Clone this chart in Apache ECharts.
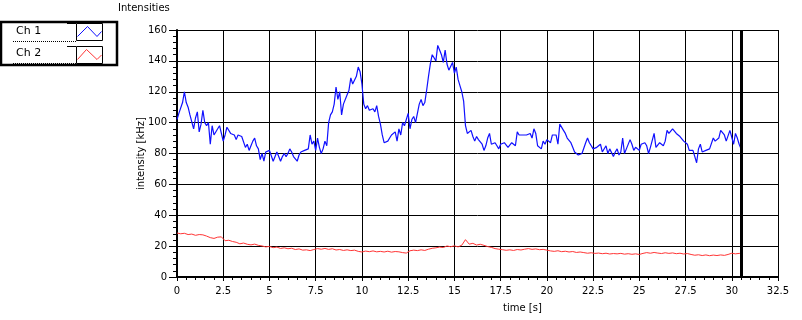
<!DOCTYPE html>
<html>
<head>
<meta charset="utf-8">
<script src="https://cdn.jsdelivr.net/npm/echarts@6/dist/echarts.min.js"></script>
<style>html,body{margin:0;padding:0;background:#fff}#c{width:802px;height:320px}</style>
</head>
<body>
<div id="c"></div>
<script>
const chartTitle = 'Intensities';
const xAxisName = 'time [s]';
const yAxisName = 'intensity [kHz]';
const seriesNames = ['Ch 1', 'Ch 2'];
const seriesColors = ['#1010ff', '#ff3535'];
const cursorTime = 30.5;
const xMin = 0, xMax = 32.5, xStep = 2.5;
const yMin = 0, yMax = 160, yStep = 20;

// sampling intervals (s) of the two channels
const ch1Step = 0.1;
const ch2Step = 0.2;

// Ch 1 values (kHz), one every 0.1 s from 0 s
const ch1Values = [
 102,106,107,113,120,113,110,105,104,96,
 103,107,94,99,108,100,98,100,86,98,
 92,93,96,98,97,88,92,97,98,93,
 92,92,89,92,91,91,90,84,86,82,
 85,88,90,85,83,76,80,75,81,82,
 82,83,75,74,81,78,75,78,80,78,
 80,83,
 81,78,77,75,79,81,80,82,81,83,
 92,86,88,82,90,84,80,83,88,85,
 100,105,107,112,123,115,120,105,112,113,
 118,121,129,125,126,130,136,133,125,112,
 109,111,108,107,109,107,111,104,99,92,
 87,88,88,90,92,93,94,88,96,92,
 100,98,
 99,106,96,102,104,100,101,112,115,111,
 113,121,130,138,144,142,140,150,147,144,
 139,147,138,134,134,139,132,136,128,124,
 120,114,98,93,94,95,91,88,91,89,
 88,86,82,85,90,93,86,86,87,85,
 83,86,85,87,86,84,83,87,88,85,
 94,92,
 92,92,92,92,93,93,90,96,93,85,
 84,83,88,86,89,88,87,92,92,92,
 86,99,99,95,93,90,90,87,84,81,
 82,79,78,80,81,87,90,87,85,83,
 83,84,84,86,81,82,85,80,83,82,
 78,81,83,79,81,90,80,83,82,89,
 86,82,
 84,85,82,86,87,87,85,80,84,84,
 93,84,85,87,88,85,88,95,93,93,
 96,97,93,92,91,91,88,88,86,82,
 83,82,81,74,83,86,81,81,82,82,
 83,84,90,88,89,90,95,94,92,88,
 89,95,95,86,93,90,86,83
];

// Ch 2 values (kHz), one every 0.2 s from 0 s
const ch2Values = [
 28.5,28,28.3,27.5,27.8,27,27.5,27.3,26.5,25.5,
 25,25.8,26,23.5,23.8,23,22.5,21.5,22,21.2,
 20.8,21.3,20.5,20.1,19.5,19.8,19,19.4,18.5,18.9,
 18.3,18.6,17.8,18.2,17.4,17.6,17.1,17.8,18.4,18,
 18.5,17.9,18.3,17.5,17.8,17.2,17.6,17.1,17.4,16.6,
 16.2,16.8,16.4,16.9,16.3,16.6,16.2,16.7,16.1,16.5,
 16.3,15.8,15.5,17,17.4,17.1,17.6,17.2,18,18.6,
 18.9,19.4,19.1,20.1,19.6,20.2,19.5,20.6,24.2,21.3,
 21.8,20.7,21.2,20.5,19.7,19.2,18.4,18,17.7,17.3,
 17.6,17.2,17.8,17.5,18,18.4,17.9,18.2,17.7,17.9,
 17.4,16.9,16.6,17,16.4,16.7,16.2,16.5,15.9,16.2,
 15.8,15.4,15.7,15.3,15.5,15.1,15.4,14.9,15.2,15,
 15.3,14.8,15.1,14.7,15,14.6,15.3,15.8,15.4,15.9,
 15.5,15.2,15.7,15.3,15.6,15.1,15.4,14.9,15.2,14.6,
 14.1,14.4,13.9,14.3,13.8,14.2,13.9,14.3,14.0,14.6,
 15.4,15.0,15.3,15.2
];

const toPairs = (vals, step) => vals.map((v, i) => [+(i * step).toFixed(2), v]);

const FONT = 'DejaVu Sans';
const chart = echarts.init(document.getElementById('c'), null, {renderer: 'canvas'});

const legendGraphics = [
  {type:'rect', shape:{x:1, y:22, width:116, height:43}, style:{fill:'#fff', stroke:'#000', lineWidth:2.5}},
  {type:'line', shape:{x1:67, y1:23.5, x2:76, y2:23.5}, style:{stroke:'#000', lineWidth:1}},
  {type:'line', shape:{x1:67, y1:46.5, x2:76, y2:46.5}, style:{stroke:'#000', lineWidth:1}},
  {type:'rect', shape:{x:76.5, y:23.5, width:26, height:17}, style:{fill:'#fff', stroke:'#000', lineWidth:1}},
  {type:'rect', shape:{x:76.5, y:46.5, width:26, height:17}, style:{fill:'#fff', stroke:'#000', lineWidth:1}},
  {type:'line', shape:{x1:13, y1:41.5, x2:76, y2:41.5}, style:{stroke:'#000', lineWidth:1, lineDash:[1,1]}},
  {type:'line', shape:{x1:13, y1:63.5, x2:76, y2:63.5}, style:{stroke:'#000', lineWidth:1, lineDash:[1,1]}},
  {type:'polyline', shape:{points:[[77.5,36.5],[87.5,26.5],[97,36.5],[101.5,31.5]]}, style:{stroke:seriesColors[0], lineWidth:1, fill:null}},
  {type:'polyline', shape:{points:[[77.5,59.5],[86.5,49.5],[97,59.5],[101.5,55]]}, style:{stroke:seriesColors[1], lineWidth:1, fill:null}},
  {type:'text', left:16, top:26, style:{text:seriesNames[0], font:'11px "' + FONT + '"', fill:'#000'}},
  {type:'text', left:16, top:48, style:{text:seriesNames[1], font:'11px "' + FONT + '"', fill:'#000'}},
  {type:'text', left:503, top:303, style:{text:xAxisName, font:'10px "' + FONT + '"', fill:'#000'}}
];

chart.setOption({
  animation: false,
  backgroundColor: '#fff',
  textStyle: {fontFamily: FONT},
  title: {text: chartTitle, left: 118, top: 3, padding: 0,
    textStyle: {fontFamily: FONT, fontSize: 10, fontWeight: 'normal', color: '#000'}},
  grid: {left: 177, top: 30, width: 601, height: 247, containLabel: false},
  xAxis: {
    type: 'value', min: xMin, max: xMax, interval: xStep,
    axisLine: {show: true, onZero: false, lineStyle: {color: '#000', width: 2}},
    axisTick: {show: true, length: 4, lineStyle: {color: '#000', width: 1}},
    minorTick: {show: true, splitNumber: 5, length: 3, lineStyle: {color: '#000', width: 1}},
    axisLabel: {color: '#000', fontFamily: FONT, fontSize: 10, margin: 9},
    splitLine: {show: true, lineStyle: {color: '#000', width: 1}}
  },
  yAxis: {
    type: 'value', min: yMin, max: yMax, interval: yStep,
    name: yAxisName, nameLocation: 'middle', nameGap: 31, nameRotate: 90, nameMoveOverlap: false,
    nameTextStyle: {color: '#000', fontFamily: FONT, fontSize: 10},
    axisLine: {show: true, lineStyle: {color: '#000', width: 2}},
    axisTick: {show: true, length: 8, lineStyle: {color: '#000', width: 1}},
    minorTick: {show: true, splitNumber: 5, length: 4, lineStyle: {color: '#000', width: 1}},
    axisLabel: {color: '#000', fontFamily: FONT, fontSize: 10, margin: 10},
    splitLine: {show: true, lineStyle: {color: '#000', width: 1}}
  },
  graphic: legendGraphics,
  series: [
    {name: seriesNames[0], type: 'line', data: toPairs(ch1Values, ch1Step), showSymbol: false, symbol: 'none',
      lineStyle: {color: seriesColors[0], width: 1.2}, itemStyle: {color: seriesColors[0]}, z: 3,
      markLine: {silent: true, symbol: ['none', 'none'], label: {show: false},
        lineStyle: {color: '#000', width: 3, type: 'solid'}, data: [{xAxis: cursorTime}]}},
    {name: seriesNames[1], type: 'line', data: toPairs(ch2Values, ch2Step), showSymbol: false, symbol: 'none',
      lineStyle: {color: seriesColors[1], width: 1}, itemStyle: {color: seriesColors[1]}, z: 3}
  ]
});
</script>
</body>
</html>
